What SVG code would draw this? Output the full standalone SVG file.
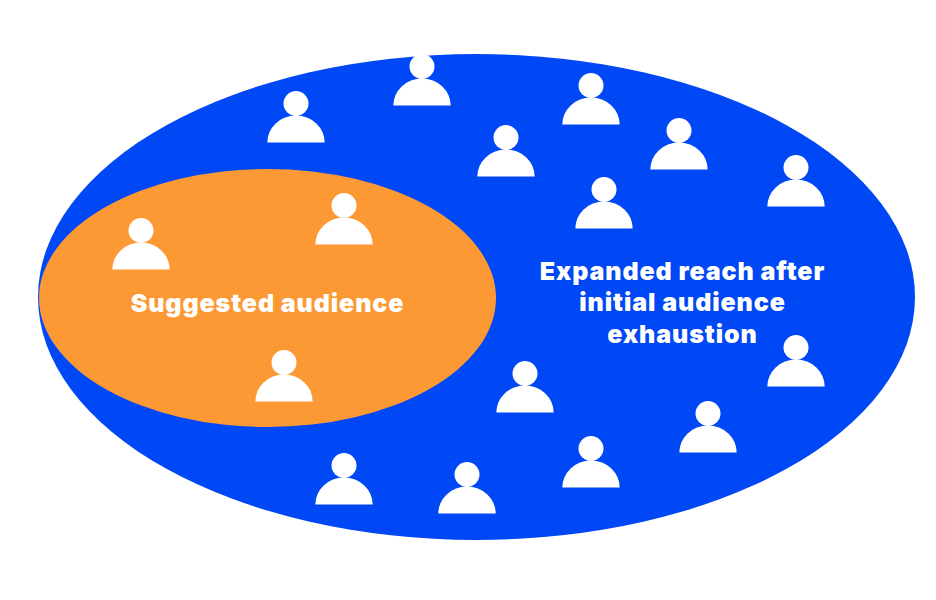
<svg xmlns="http://www.w3.org/2000/svg" width="936" height="600" viewBox="0 0 936 600">
<style>
.lbl{font-family:"Inter","Liberation Sans",sans-serif;font-weight:900;font-size:25px;fill:#fff;text-anchor:middle;letter-spacing:.9px}
.p{fill:#fff}
</style>
<defs>
<g id="person"><circle cx="0" cy="-39.5" r="12.5"/><path d="M-28.7,-.5A28.7,27 0 0 1 28.7,-.5Z"/></g>
</defs>
<rect width="936" height="600" fill="#fff"/>
<g id="connectors"/>
<g id="outer"><ellipse cx="476.5" cy="297" rx="438.5" ry="243" fill="#0047f5"/><text class="lbl" x="682.5" y="280">Expanded reach after</text><text class="lbl" x="682.5" y="311">initial audience</text><text class="lbl" x="682.5" y="343">exhaustion</text></g>
<g id="inner"><ellipse cx="267.5" cy="298" rx="228.5" ry="129" fill="#fd9934"/><text class="lbl" x="267.5" y="312">Suggested audience</text></g>
<g id="people" class="p">
<use href="#person" x="296" y="143"/><use href="#person" x="422" y="106"/><use href="#person" x="591" y="125"/><use href="#person" x="506" y="177"/><use href="#person" x="679" y="170"/><use href="#person" x="796" y="207"/><use href="#person" x="604" y="229"/><use href="#person" x="141" y="270"/><use href="#person" x="344" y="245"/><use href="#person" x="284" y="402"/><use href="#person" x="525" y="413"/><use href="#person" x="796" y="387"/><use href="#person" x="708" y="453"/><use href="#person" x="591" y="488"/><use href="#person" x="344" y="505"/><use href="#person" x="467" y="514"/>
</g>
</svg>
